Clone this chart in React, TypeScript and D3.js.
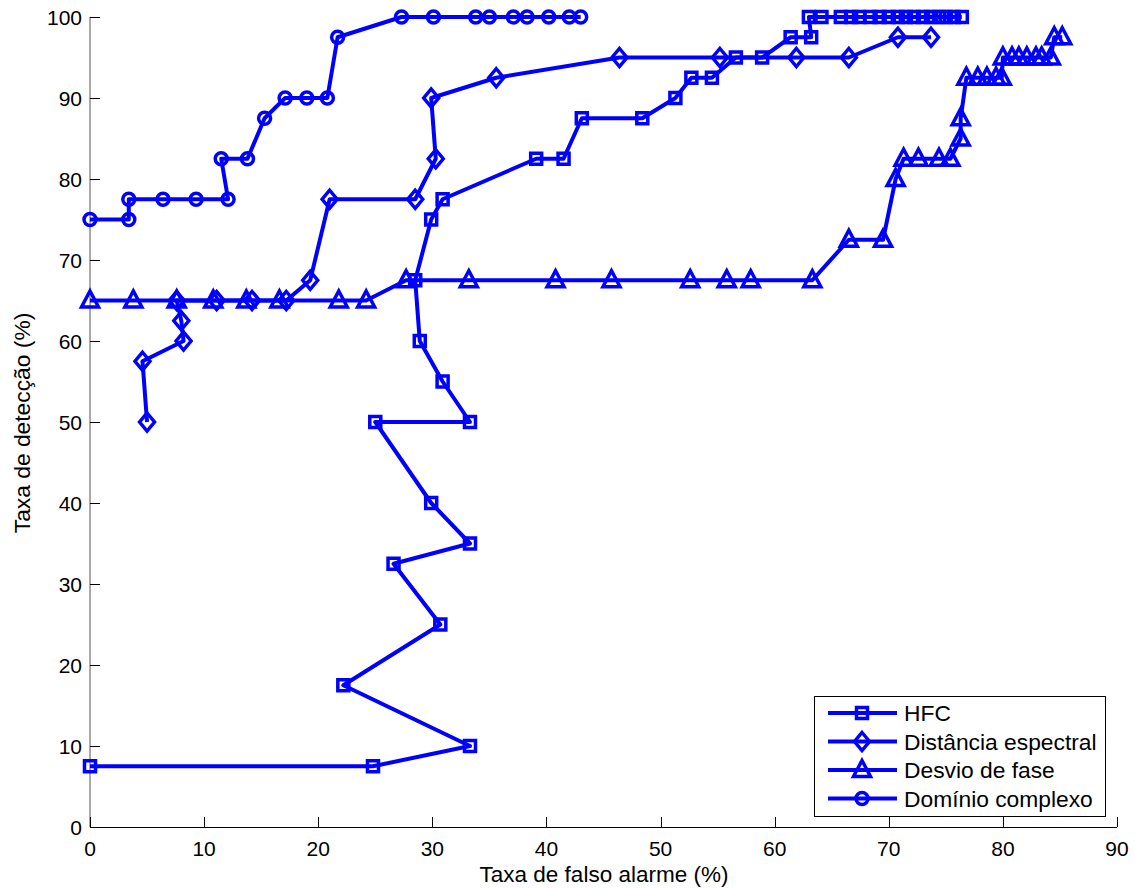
import * as d3 from 'd3';
import React from 'react';

const W = 1135;
const H = 888;

// data (x = false alarm %, y = detection %)
const hfcX = [0, 24.8, 33.3, 22.2, 30.7, 26.6, 33.3, 29.9, 25, 33.3, 30.9, 28.9, 28.5, 29.9, 30.9, 39.1, 41.5, 43.1, 48.4, 51.3, 52.7, 54.5, 56.6, 58.9, 61.4, 63.2, 63.0, 64.1, 65.8, 66.7, 67.4, 68.4, 69.2, 70.0, 70.8, 71.5, 72.2, 73.0, 73.7, 74.4, 75.0, 75.7, 76.4];
const hfcY = [7.5, 7.5, 10, 17.5, 25, 32.5, 35, 40, 50, 50, 55, 60, 67.5, 75, 77.5, 82.5, 82.5, 87.5, 87.5, 90, 92.5, 92.5, 95, 95, 97.5, 97.5, 100, 100, 100, 100, 100, 100, 100, 100, 100, 100, 100, 100, 100, 100, 100, 100, 100];

const distX = [5, 4.6, 8.2, 8.0, 7.6, 11.1, 14.2, 17.2, 19.3, 21.0, 28.5, 30.3, 29.9, 35.6, 46.4, 55.2, 61.9, 66.5, 70.8, 73.7];
const distY = [50, 57.5, 60, 62.5, 65, 65, 65, 65, 67.5, 77.5, 77.5, 82.5, 90, 92.5, 95, 95, 95, 95, 97.5, 97.5];

const faseX = [0, 3.8, 7.6, 10.8, 13.7, 16.6, 21.8, 24.2, 27.7, 33.2, 40.8, 45.7, 52.6, 55.8, 57.9, 63.3, 66.5, 69.5, 70.6, 71.3, 72.6, 74.4, 75.4, 76.3, 76.3, 76.8, 77.8, 78.6, 79.4, 79.9, 80.0, 80.8, 81.4, 82.1, 82.9, 83.4, 84.2, 84.5, 85.2];
const faseY = [65, 65, 65, 65, 65, 65, 65, 65, 67.5, 67.5, 67.5, 67.5, 67.5, 67.5, 67.5, 67.5, 72.5, 72.5, 80, 82.5, 82.5, 82.5, 82.5, 85, 87.5, 92.5, 92.5, 92.5, 92.5, 92.5, 95, 95, 95, 95, 95, 95, 95, 97.5, 97.5];

const compX = [0, 3.4, 3.4, 6.4, 9.3, 12.1, 11.5, 13.8, 15.3, 17.1, 19.0, 20.8, 21.7, 27.3, 30.1, 33.8, 35.0, 37.1, 38.3, 40.2, 42.0, 43.0];
const compY = [75, 75, 77.5, 77.5, 77.5, 77.5, 82.5, 82.5, 87.5, 90, 90, 90, 97.5, 100, 100, 100, 100, 100, 100, 100, 100, 100];

const seriesNames = ['HFC', 'Distância espectral', 'Desvio de fase', 'Domínio complexo'];
const xTicks = [0, 10, 20, 30, 40, 50, 60, 70, 80, 90];
const yTicks = [0, 10, 20, 30, 40, 50, 60, 70, 80, 90, 100];

const BLUE = '#0000ff';
const FONT = '"Liberation Sans", Arial, sans-serif';

const markerPath = (kind: string) => {
  if (kind === 'square') return 'M-5.5,-5.5H5.5V5.5H-5.5Z';
  if (kind === 'diamond') return 'M0,-9L7.5,0L0,9L-7.5,0Z';
  if (kind === 'triangle') return 'M0,-9.5L8.5,6.5L-8.5,6.5Z';
  return 'M6,0A6,6 0 1,1 -6,0A6,6 0 1,1 6,0Z';
};

const App = () => {
  const x = d3.scaleLinear().domain([0, 90]).range([90, 1117]);
  const y = d3.scaleLinear().domain([0, 100]).range([827, 17]);

  const series = [
    { name: seriesNames[0], xs: hfcX, ys: hfcY, marker: 'square' },
    { name: seriesNames[1], xs: distX, ys: distY, marker: 'diamond' },
    { name: seriesNames[2], xs: faseX, ys: faseY, marker: 'triangle' },
    { name: seriesNames[3], xs: compX, ys: compY, marker: 'circle' },
  ];

  const line = d3
    .line<[number, number]>()
    .x((d) => x(d[0]))
    .y((d) => y(d[1]));

  const legendX = 814;
  const legendY = 696;

  return (
    <svg width={W} height={H} style={{ position: 'absolute', left: 0, top: 0, background: '#fff' }}>
      <rect width={W} height={H} fill="#fff" />

      {/* axes */}
      <line x1={90} x2={90} y1={17} y2={827} stroke="#555" strokeWidth={1} />
      <line x1={90} x2={1117} y1={827.5} y2={827.5} stroke="#000" strokeWidth={1} />
      {xTicks.map((t) => (
        <g key={'x' + t}>
          <line x1={Math.round(x(t)) + 0.5} x2={Math.round(x(t)) + 0.5} y1={827} y2={817} stroke="#000" />
          <text x={x(t)} y={856} textAnchor="middle" fontFamily={FONT} fontSize={21} fill="#000">
            {t}
          </text>
        </g>
      ))}
      {yTicks.map((t) => (
        <g key={'y' + t}>
          <line x1={90} x2={100} y1={Math.round(y(t)) + 0.5} y2={Math.round(y(t)) + 0.5} stroke="#000" />
          <text x={82} y={y(t) + 7.5} textAnchor="end" fontFamily={FONT} fontSize={21} fill="#000">
            {t}
          </text>
        </g>
      ))}
      <text x={604} y={882} textAnchor="middle" fontFamily={FONT} fontSize={22.5} fill="#000">
        Taxa de falso alarme (%)
      </text>
      <text
        transform={`translate(30,423) rotate(-90)`}
        textAnchor="middle"
        fontFamily={FONT}
        fontSize={22.8}
        fill="#000"
      >
        Taxa de detecção (%)
      </text>

      {/* series */}
      {series.map((s) => {
        const pts = s.xs.map((v, i) => [v, s.ys[i]] as [number, number]);
        return (
          <g key={s.name}>
            <path d={line(pts) || ''} fill="none" stroke={BLUE} strokeWidth={4} strokeLinejoin="round" />
            {pts.map((p, i) => (
              <path
                key={i}
                d={markerPath(s.marker)}
                transform={`translate(${x(p[0])},${y(p[1])})`}
                fill="none"
                stroke={BLUE}
                strokeWidth={3.5}
              />
            ))}
          </g>
        );
      })}

      {/* legend */}
      <rect x={legendX + 0.5} y={legendY + 0.5} width={291} height={120} fill="#fff" stroke="#000" strokeWidth={1} />
      {series.map((s, i) => {
        const cy = legendY + 17 + i * 28.5;
        return (
          <g key={'lg' + s.name}>
            <line x1={828} x2={897} y1={cy} y2={cy} stroke={BLUE} strokeWidth={4} />
            <path d={markerPath(s.marker)} transform={`translate(862,${cy})`} fill="none" stroke={BLUE} strokeWidth={3.5} />
            <text x={904} y={cy + 8} fontFamily={FONT} fontSize={22.8} fill="#000">
              {s.name}
            </text>
          </g>
        );
      })}
    </svg>
  );
};

export default App;
